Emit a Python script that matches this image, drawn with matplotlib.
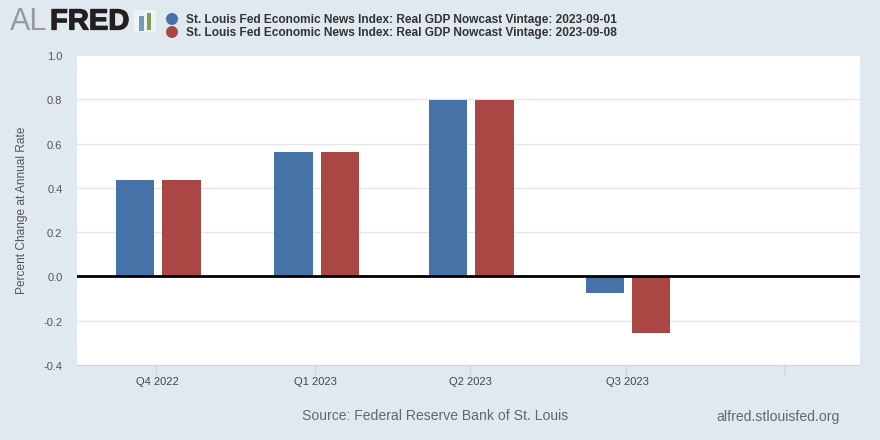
import matplotlib
matplotlib.use('Agg')
import matplotlib.pyplot as plt
import matplotlib.dates as mdates
import matplotlib.patheffects as pe
import pandas as pd
from matplotlib.patches import Circle, FancyBboxPatch, Rectangle
from matplotlib.transforms import ScaledTranslation

plt.rcParams['font.family'] = ['Liberation Sans', 'DejaVu Sans']

# Data
quarters = ['2022-10-01', '2023-01-01', '2023-04-01', '2023-07-01', '2023-10-01']
quarter_labels = ['Q4 2022', 'Q1 2023', 'Q2 2023', 'Q3 2023', '']
vintage_0901 = [0.435, 0.56, 0.797, -0.075]
vintage_0908 = [0.435, 0.56, 0.797, -0.255]
yticks = [-0.4, -0.2, 0.0, 0.2, 0.4, 0.6, 0.8, 1.0]

legend_labels = ['St. Louis Fed Economic News Index: Real GDP Nowcast Vintage: 2023-09-01',
                 'St. Louis Fed Economic News Index: Real GDP Nowcast Vintage: 2023-09-08']

BG = '#e1e9f0'
BLUE = '#4572a7'
RED = '#aa4643'
W, H = 880, 440

fig = plt.figure(figsize=(8.8, 4.4), dpi=100, facecolor=BG)
ax = fig.add_axes([77 / W, 1 - 365 / H, (860 - 77) / W, (365 - 55) / H])
ax.set_facecolor('white')

x = mdates.date2num(pd.to_datetime(quarters))
bar_w = 22.3
ax.bar(x[:4] - 12.4, vintage_0901, width=bar_w, color=BLUE, zorder=3)
ax.bar(x[:4] + 14.6, vintage_0908, width=bar_w, color=RED, zorder=3)

ax.axhline(0, color='black', lw=2, zorder=4)
ax.set_ylim(-0.4, 1.0)
ax.set_xlim(x[0] - 46.2, x[0] + 409)

ax.set_yticks(yticks)
ax.set_yticklabels(['%.1f' % v for v in yticks], fontsize=8, color='#555555')
ax.yaxis.grid(True, color='#e6e6e6', lw=1, zorder=0)
ax.set_axisbelow(True)
ax.tick_params(axis='y', length=0, pad=10.5)
ax.set_xticks(x)
ax.set_xticklabels(quarter_labels, fontsize=8, color='#444444')
ax.tick_params(axis='x', length=7.2, width=1, color='#ccd6eb', pad=1.2)
ax.set_ylabel('Percent Change at Annual Rate', fontsize=8.6, color='#555555', labelpad=11)

# nudge the tick labels by a pixel: quarters right, percents down
shift_x = ScaledTranslation(1 / 100, 0, fig.dpi_scale_trans)
for lab in ax.get_xticklabels():
    lab.set_transform(lab.get_transform() + shift_x)
shift_y = ScaledTranslation(0, -1 / 100, fig.dpi_scale_trans)
for lab in ax.get_yticklabels():
    lab.set_transform(lab.get_transform() + shift_y)

for side in ['top', 'left', 'right']:
    ax.spines[side].set_visible(False)
ax.spines['bottom'].set_color('#ccd6eb')

# Overlay in pixel coordinates for the header and footer
over = fig.add_axes([0, 0, 1, 1], facecolor='none')
over.set_xlim(0, W)
over.set_ylim(H, 0)
over.axis('off')

# Logo
over.text(10, 21.5, 'AL', fontsize=22, color='#9a9a9a', va='center', ha='left')
fred = over.text(50, 21.5, 'FRED', fontsize=21, color='#231f20', va='center', ha='left',
                 fontweight='bold')
fred.set_path_effects([pe.withStroke(linewidth=0.9, foreground='#231f20')])
over.add_patch(FancyBboxPatch((134, 10), 22, 22, boxstyle='round,pad=0,rounding_size=2',
                              fc='#f0f3f3', ec='none'))
over.add_patch(Rectangle((139, 16), 5, 15.5, fc='#6f9fb8', ec='none'))
over.add_patch(Rectangle((147, 13), 4, 17, fc='#7d9e5a', ec='none'))

# Legend
for yy, col, lab in zip([19, 32], [BLUE, RED], legend_labels):
    over.add_patch(Circle((172, yy), 6, fc=col, ec='none'))
    over.text(186, yy + 1, lab, fontsize=8.6, fontweight='bold', color='#333333',
              va='center', ha='left')

# Footer
over.text(302, 416.5, 'Source: Federal Reserve Bank of St. Louis', fontsize=10.1,
          color='#666666', va='center', ha='left')
over.text(840, 416.5, 'alfred.stlouisfed.org', fontsize=10.1, color='#666666',
          va='center', ha='right')

fig.savefig('out.png', dpi=100, facecolor=BG)
